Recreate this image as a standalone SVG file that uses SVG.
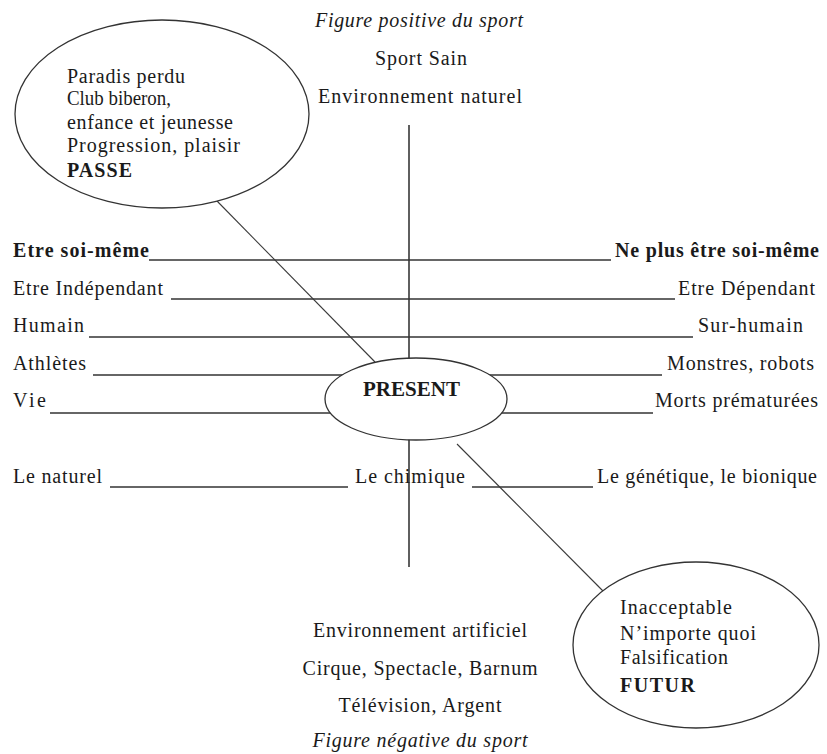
<svg xmlns="http://www.w3.org/2000/svg" width="827" height="754" viewBox="0 0 827 754">
<style>
text{font-family:"Liberation Serif","Times New Roman",serif;font-size:20px;fill:#1a1a1a}
.b{font-weight:bold}
.i{font-style:italic}
.m{text-anchor:middle}
.row{stroke:#333;stroke-width:1.6;fill:none}
.axis{stroke:#2a2a2a;stroke-width:1.5;fill:none}
.diag{stroke:#3a3a3a;stroke-width:1.1;fill:none}
.oval{fill:#fff;stroke:#333;stroke-width:1.3}
</style>
<rect width="827" height="754" fill="#fff"/>
<g id="connectors">
<line class="axis" x1="409" y1="125" x2="409" y2="567"/>
<line class="row" x1="149" y1="260" x2="611" y2="260"/>
<line class="row" x1="171" y1="299" x2="675" y2="299"/>
<line class="row" x1="89" y1="337" x2="693" y2="337"/>
<line class="row" x1="93" y1="375" x2="662" y2="375"/>
<line class="row" x1="50" y1="413" x2="653" y2="413"/>
<line class="row" x1="110" y1="487" x2="348" y2="487"/>
<line class="row" x1="472" y1="487" x2="593" y2="487"/>
<line class="diag" x1="217" y1="201" x2="375" y2="362"/>
<line class="diag" x1="457" y1="444" x2="603" y2="591"/>
</g>
<g id="top-labels">
<text class="i m" x="419" y="27" textLength="208">Figure positive du sport</text>
<text class="m" x="421" y="65" textLength="92">Sport Sain</text>
<text class="m" x="420" y="103" textLength="204">Environnement naturel</text>
</g>
<g id="passe">
<ellipse class="oval" cx="162" cy="114" rx="147" ry="94"/>
<text x="67" y="83" textLength="118">Paradis perdu</text>
<text x="67" y="105" textLength="104" lengthAdjust="spacingAndGlyphs">Club biberon,</text>
<text x="67" y="129" textLength="166">enfance et jeunesse</text>
<text x="67" y="152" textLength="173">Progression, plaisir</text>
<text class="b" x="67" y="177" textLength="65">PASSE</text>
</g>
<g id="left-labels">
<text class="b" x="13" y="257" textLength="136">Etre soi-même</text>
<text x="13" y="295" textLength="150">Etre Indépendant</text>
<text x="13" y="332" textLength="71">Humain</text>
<text x="13" y="370" textLength="73">Athlètes</text>
<text x="13" y="407" textLength="33">Vie</text>
<text x="13" y="483" textLength="89">Le naturel</text>
</g>
<g id="right-labels">
<text class="b" x="615" y="257" textLength="204">Ne plus être soi-même</text>
<text x="678" y="295" textLength="137">Etre Dépendant</text>
<text x="698" y="332" textLength="105">Sur-humain</text>
<text x="667" y="370" textLength="147">Monstres, robots</text>
<text x="655" y="407" textLength="163">Morts prématurées</text>
<text x="597" y="483" textLength="220">Le génétique, le bionique</text>
</g>
<g id="middle-label">
<text x="355" y="483" textLength="110">Le chimique</text>
</g>
<g id="present">
<ellipse class="oval" cx="416" cy="399" rx="91" ry="41"/>
<text class="b" x="363" y="396" style="font-size:21px" textLength="97">PRESENT</text>
</g>
<g id="futur">
<ellipse class="oval" cx="696" cy="645" rx="123" ry="83"/>
<text x="620" y="614" textLength="112">Inacceptable</text>
<text x="620" y="640" textLength="136">N’importe quoi</text>
<text x="620" y="664" textLength="108">Falsification</text>
<text class="b" x="620" y="692" textLength="75">FUTUR</text>
</g>
<g id="bottom-labels">
<text class="m" x="420" y="637" textLength="214">Environnement artificiel</text>
<text class="m" x="420" y="675" textLength="235">Cirque, Spectacle, Barnum</text>
<text class="m" x="420" y="712" textLength="163">Télévision, Argent</text>
<text class="i m" x="420" y="747" textLength="215">Figure négative du sport</text>
</g>
</svg>
